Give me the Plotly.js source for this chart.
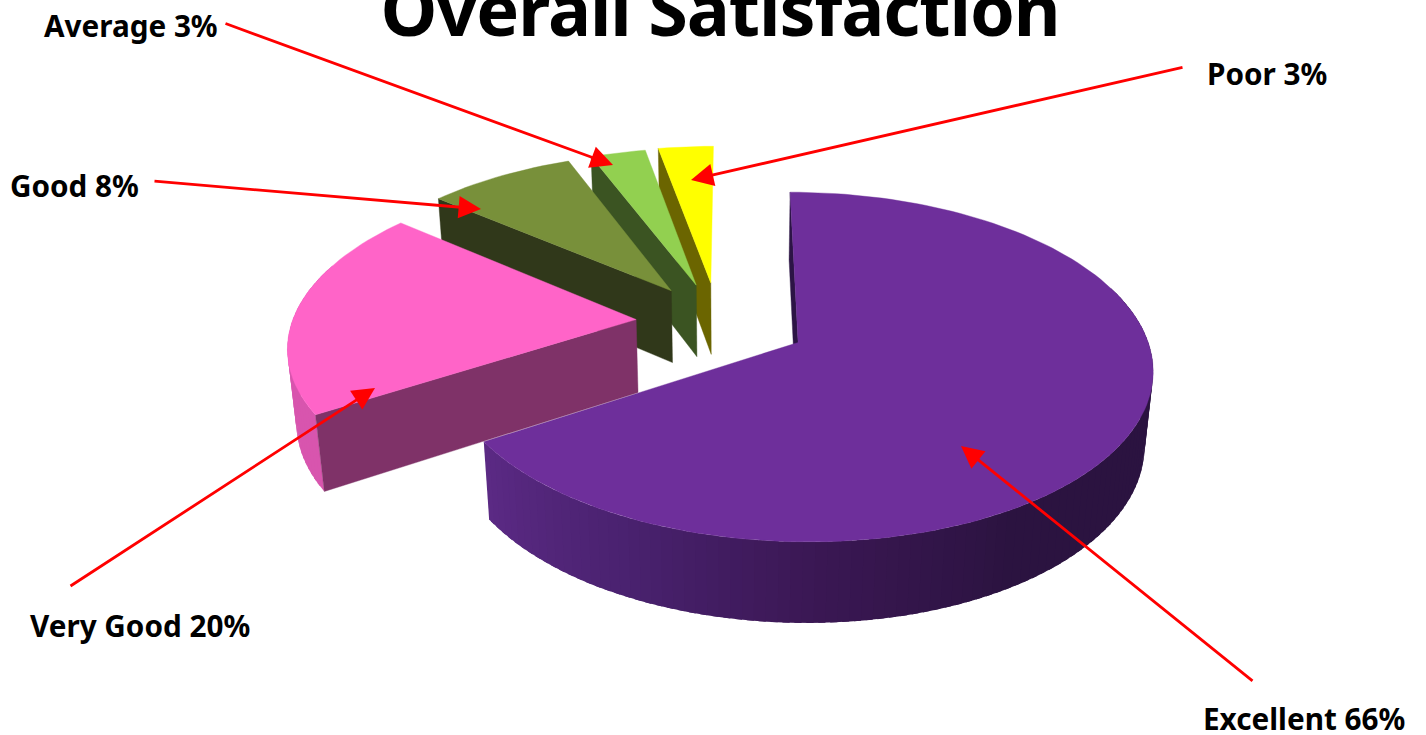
<!DOCTYPE html>
<html>
<head>
<meta charset="utf-8">
<script src="https://cdn.plot.ly/plotly-3.0.1.min.js"></script>
<style>
html,body{margin:0;padding:0;background:#fff;overflow:hidden}
#chart{width:1426px;height:735px}
.gtitle{letter-spacing:-1.1px}
</style>
</head>
<body>
<div id="chart"></div>
<script>
// Survey shares, clockwise from twelve o'clock
const categories = ['Excellent', 'Very Good', 'Good', 'Average', 'Poor'];
const shares = [66, 20, 8, 3, 3];

// Face colours per slice
const topColors = ['#6e2f9b', '#ff64c8', '#78903a', '#92d050', '#ffff00'];
const cutColors = ['#2c1445', '#7f3268', '#30381a', '#3b5422', '#6b6500'];
const rimStops = [
  ['#2b1340', '#2b1340', '#2b1340', '#2b1340', '#2b1340', '#2b1340', '#3a1753', '#4a2270', '#5c2a85'],
  ['#d855ae', '#d855ae'],
  ['#5e6d2a', '#5e6d2a'],
  ['#5e8a33', '#5e8a33'],
  ['#a8a400', '#a8a400']
];

// How far each slice is pulled away from the centre, and a small vertical trim in pixels
const explodeBy = [0.262, 0.239, 0.239, 0.239, 0.245];
const trimY = [-0.8, 0, 0, 0, 0];

// Drawing order, far slices first
const paintOrder = [0, 4, 3, 2, 1];

// Callout text placement (centre of each label) and leader lines
const labelX = [1304, 140, 74, 131, 1267];
const labelY = [718, 625, 185, 25, 73];
const leaderFromX = [1254, 69, 153, 224, 1184];
const leaderFromY = [682, 587, 181, 23, 67];
const leaderToX = [961, 375, 481, 613, 691];
const leaderToY = [446, 388, 209, 165, 180];

// Perspective pie parameters; vx is the horizontal vanishing position
const view = {cx: 718, vx: 733, cy: 322, a: 344, b: 165.5, depth: 74.5, p: 0.138, q: 0.02};

function project(X, Y, D) {
  const d = 1 + view.p * Y + view.q * D;
  return [view.vx + (view.cx - view.vx + view.a * X) / d, view.cy + (-view.b * Y + view.depth * D) / d];
}

function hexToRgb(h) {
  return [1, 3, 5].map(i => parseInt(h.slice(i, i + 2), 16));
}
function mixStops(stops, f) {
  const s = f * (stops.length - 1);
  const i = Math.min(Math.floor(s), stops.length - 2);
  const u = s - i;
  const A = hexToRgb(stops[i]), B = hexToRgb(stops[i + 1]);
  return 'rgb(' + A.map((c, k) => Math.round(c + (B[k] - c) * u)).join(',') + ')';
}

function polygon(points, color, outline) {
  return {
    type: 'scatter', mode: 'lines', hoverinfo: 'skip', showlegend: false,
    x: points.map(p => p[0]).concat(points[0][0]),
    y: points.map(p => p[1]).concat(points[0][1]),
    fill: 'toself', fillcolor: color,
    line: {color: color, width: outline}
  };
}

// Angular span of every slice in radians
const total = shares.reduce((s, v) => s + v, 0);
const spans = [];
shares.reduce((acc, v) => {
  const from = acc / total * 2 * Math.PI;
  const to = (acc + v) / total * 2 * Math.PI;
  spans.push([from, to]);
  return acc + v;
}, 0);

const traces = [];
paintOrder.forEach(i => {
  const [from, to] = spans[i];
  const mid = (from + to) / 2;
  const ox = explodeBy[i] * Math.sin(mid);
  const oy = explodeBy[i] * Math.cos(mid);
  const shifted = p => [p[0], p[1] + trimY[i]];
  const rimPoint = (t, D) => shifted(project(ox + Math.sin(t), oy + Math.cos(t), D));
  const apex = D => shifted(project(ox, oy, D));

  // Outer rim, split into narrow overlapping strips for shading; the far rim stays hidden
  const steps = Math.max(6, Math.round((to - from) / 0.03));
  const dt = (to - from) / steps;
  for (let k = 0; k < steps; k++) {
    const t0 = from + dt * k;
    const t1 = Math.min(to, t0 + dt * 1.6);
    if (Math.cos(t0) > 0.3 && Math.cos(t1) > 0.3) continue;
    traces.push(polygon(
      [rimPoint(t0, 0), rimPoint(t1, 0), rimPoint(t1, 1), rimPoint(t0, 1)],
      mixStops(rimStops[i], (k + 0.5) / steps), 0
    ));
  }

  // Only the leading cut face of each slice turns towards the viewer
  traces.push(polygon([apex(0), rimPoint(from, 0), rimPoint(from, 1), apex(1)], cutColors[i], 0.4));

  // Top surface
  const top = [apex(0)];
  for (let k = 0; k <= steps; k++) top.push(rimPoint(from + dt * k, 0));
  traces.push(polygon(top, topColors[i], 0.4));
});

const labelFont = {family: '"Noto Sans", "DejaVu Sans", sans-serif', size: 29.7, color: '#000'};
const annotations = [];
categories.forEach((c, i) => {
  annotations.push({
    xref: 'x', yref: 'y', x: labelX[i], y: labelY[i], showarrow: false,
    text: '<b>' + c + ' ' + shares[i] + '%</b>', font: labelFont,
    xanchor: 'center', yanchor: 'middle'
  });
  annotations.push({
    xref: 'x', yref: 'y', axref: 'x', ayref: 'y',
    x: leaderToX[i], y: leaderToY[i], ax: leaderFromX[i], ay: leaderFromY[i],
    text: '', showarrow: true, arrowhead: 2, arrowsize: 1.6, arrowwidth: 2.8, arrowcolor: '#ff0000'
  });
});

const layout = {
  width: 1426, height: 735,
  margin: {l: 0, r: 0, t: 0, b: 0},
  paper_bgcolor: '#fff', plot_bgcolor: '#fff',
  showlegend: false,
  title: {
    text: '<b>Overall Satisfaction</b>',
    x: 720 / 1426, xanchor: 'center', xref: 'paper',
    y: 1 - 36 / 735, yref: 'paper', yanchor: 'bottom',
    font: {family: '"Noto Sans", "DejaVu Sans", sans-serif', size: 72, color: '#000'}
  },
  xaxis: {range: [0, 1426], visible: false, fixedrange: true},
  yaxis: {range: [735, 0], visible: false, fixedrange: true},
  annotations: annotations
};

Plotly.newPlot('chart', traces, layout, {displayModeBar: false, staticPlot: true});
</script>
</body>
</html>
